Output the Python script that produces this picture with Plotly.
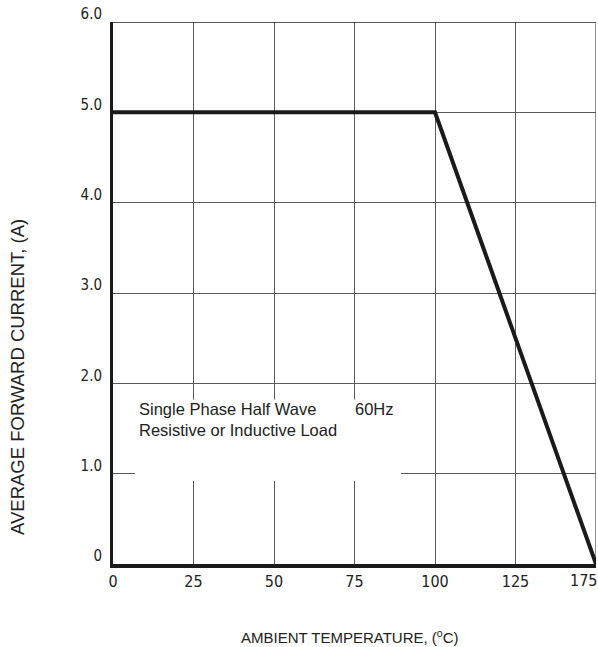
import plotly.graph_objects as go

# Derating curve (x positions in axis units; last tick is labelled "175" in the source)
temps = [0, 100, 150]
current = [5.0, 5.0, 0.0]

x_tickvals = [0, 25, 50, 75, 100, 125, 150]
x_ticktext = ["0", "25", "50", "75", "100", "125", "175"]
y_tickvals = [0, 1, 2, 3, 4, 5, 6]
y_ticktext = ["0", "1.0", "2.0", "3.0", "4.0", "5.0", "6.0"]

note_line1 = "Single Phase Half Wave"
note_hz = "60Hz"
note_line2 = "Resistive or Inductive Load"

TXT = "#222222"
GRID = "#5a5a5a"
tickfont = dict(family="Liberation Sans Narrow, Arial Narrow, DejaVu Sans Condensed, Liberation Sans",
                size=16, color=TXT)

fig = go.Figure()
fig.add_trace(go.Scatter(x=temps, y=current, mode="lines",
                         line=dict(color="#1a1a1a", width=4), showlegend=False,
                         hoverinfo="skip"))

fig.update_layout(
    width=598, height=647,
    margin=dict(l=113, r=2, t=22, b=83),
    paper_bgcolor="white", plot_bgcolor="white",
    font=dict(family="Liberation Sans, Arial, sans-serif", color=TXT),
    xaxis=dict(range=[0, 150], tickvals=x_tickvals[:-1], ticktext=x_ticktext[:-1],
               showgrid=True, gridcolor=GRID, gridwidth=1, zeroline=False,
               showline=True, linecolor="#1a1a1a", linewidth=4, automargin=False,
               ticks="", ticklabelstandoff=0,
               tickfont=tickfont, fixedrange=True),
    yaxis=dict(range=[0, 6], tickvals=y_tickvals, ticktext=y_ticktext,
               showgrid=True, gridcolor=GRID, gridwidth=1, zeroline=False,
               showline=True, linecolor="#1a1a1a", linewidth=3, automargin=False,
               ticks="", ticklabelstandoff=5, ticklabelshift=-8,
               ticklabeloverflow="allow",
               tickfont=dict(tickfont, size=15), fixedrange=True),
)

# last x tick label sits at the right edge, right-aligned so it stays inside the page
fig.add_annotation(x=x_tickvals[-1], y=0, xref="x", yref="paper", text=x_ticktext[-1],
                   showarrow=False, xanchor="right", yanchor="top", yshift=-5, xshift=3,
                   font=tickfont)

# white box behind the note (gridlines interrupted)
fig.add_shape(type="rect", xref="x", yref="y", x0=6.8, x1=89.4, y0=0.92, y1=1.82,
              fillcolor="white", line=dict(width=0), layer="between")
# top and right border
fig.add_shape(type="line", xref="x", yref="y", x0=0, x1=150, y0=6, y1=6,
              line=dict(color="#222222", width=1.3), layer="between")
fig.add_shape(type="line", xref="x", yref="y", x0=150, x1=150, y0=0, y1=6,
              line=dict(color="#555555", width=1.3), layer="between")

note_font = dict(family="Liberation Sans, Arial, sans-serif", size=16.5, color=TXT)
fig.add_annotation(x=7.6, y=1.716, xref="x", yref="y", text=note_line1,
                   showarrow=False, xanchor="left", yanchor="middle", font=note_font)
fig.add_annotation(x=74.6, y=1.716, xref="x", yref="y", text=note_hz,
                   showarrow=False, xanchor="left", yanchor="middle", font=note_font)
fig.add_annotation(x=7.6, y=1.484, xref="x", yref="y", text=note_line2,
                   showarrow=False, xanchor="left", yanchor="middle", font=note_font)

# axis titles
fig.add_annotation(xref="paper", yref="paper", x=0, y=0.345, xshift=-96,
                   text="AVERAGE FORWARD CURRENT, (A)", textangle=-90, showarrow=False,
                   xanchor="center", yanchor="middle",
                   font=dict(family="Liberation Sans, Arial, sans-serif", size=18.5, color=TXT))
fig.add_annotation(xref="paper", yref="paper", x=0.49, y=0, yshift=-72,
                   text="AMBIENT TEMPERATURE, (<sup>o</sup>C)", showarrow=False,
                   xanchor="center", yanchor="middle",
                   font=dict(family="Liberation Sans, Arial, sans-serif", size=15, color=TXT))

fig.write_html(
    "out.html",
    config={"displayModeBar": False},
    post_script="document.documentElement.style.overflow='hidden';"
                "document.body.style.overflow='hidden';"
                "document.body.style.margin='0';",
)
